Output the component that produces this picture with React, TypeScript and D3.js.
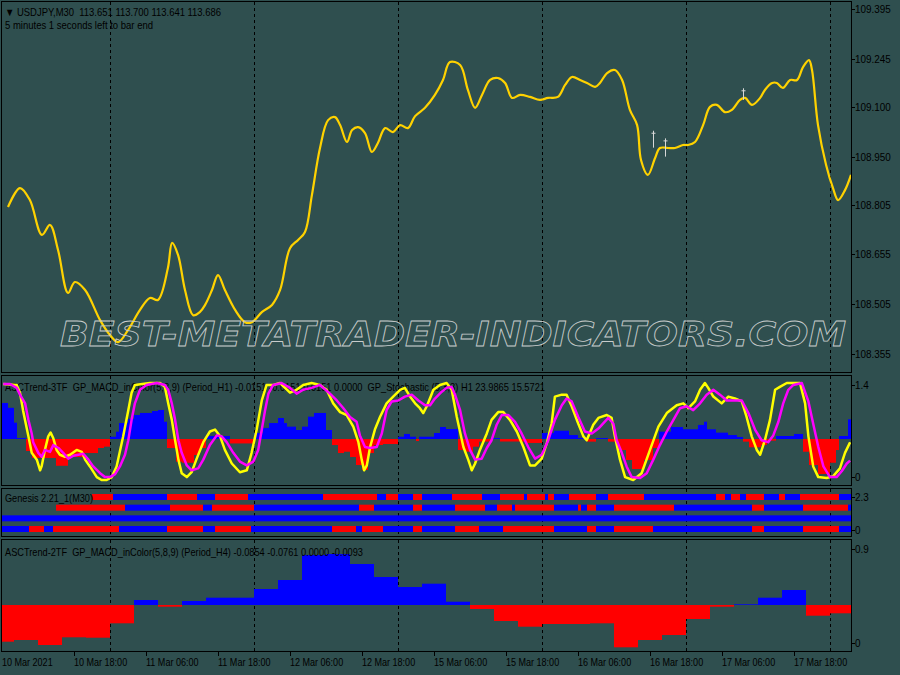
import { useEffect, useRef } from 'react';
import * as d3 from 'd3';

// main chart: USDJPY M30 close line, sampled (bar index, price)
const priceBars = [2, 6, 9.3, 13.3, 16, 18.7, 22, 24.3, 27.7, 32.7, 36, 38.7, 42, 46, 49.3, 52, 55.3, 56.7, 58.7, 61, 63.7, 66, 67.7, 70, 72, 74.3, 77.7, 81, 83.3, 86.7, 90, 92.7, 96, 98.7, 101, 103.3, 106, 108.7, 111, 112.7, 115, 116.7, 118.7, 121, 123.3, 125.3, 127.7, 130.3, 132.7, 135.3, 137.7, 141, 144.3, 147, 149.3, 152.7, 155.3, 157.7, 160, 162.7, 165.3, 167.7, 170, 172.7, 176, 179.3, 182, 185.3, 187.7, 190, 192.7, 195, 197.7, 199.3, 201.7, 204.3, 206.7, 209.3, 211.7, 213, 215.3, 217.7, 219.3, 222, 224.3, 227, 228.7, 231, 233.7, 236, 238.3, 241, 243.3, 246, 247.7, 250, 252.7, 254.3, 256.7, 258.3, 260.3, 262.7, 265, 267, 269, 270, 272, 274.7, 277, 278.7, 281, 283];
const priceVals = [108.798, 108.855, 108.819, 108.714, 108.744, 108.668, 108.539, 108.572, 108.548, 108.457, 108.412, 108.391, 108.427, 108.488, 108.524, 108.518, 108.614, 108.690, 108.653, 108.548, 108.472, 108.482, 108.503, 108.548, 108.593, 108.548, 108.488, 108.451, 108.451, 108.482, 108.503, 108.548, 108.674, 108.699, 108.723, 108.834, 108.976, 109.060, 109.069, 109.045, 108.994, 109.030, 109.039, 109.021, 108.964, 108.991, 109.036, 109.024, 109.045, 109.036, 109.072, 109.097, 109.136, 109.181, 109.235, 109.226, 109.151, 109.097, 109.136, 109.181, 109.187, 109.172, 109.127, 109.136, 109.130, 109.121, 109.127, 109.130, 109.166, 109.190, 109.181, 109.172, 109.160, 109.172, 109.202, 109.211, 109.181, 109.091, 109.045, 108.940, 108.895, 108.946, 108.976, 108.976, 108.976, 108.985, 108.985, 108.994, 109.045, 109.100, 109.106, 109.084, 109.091, 109.121, 109.127, 109.106, 109.127, 109.151, 109.172, 109.172, 109.157, 109.181, 109.181, 109.220, 109.241, 109.211, 109.045, 108.925, 108.855, 108.819, 108.849, 108.895];
const priceTicks = [109.395, 109.245, 109.1, 108.95, 108.805, 108.655, 108.505, 108.355];

// up-arrow objects on the main chart
const arrowBars = [217.1, 221.1, 247.1];
const arrowTops = [109.028, 109.005, 109.156];
const arrowBottoms = [108.977, 108.950, 109.121];

// ASCTrend-3TF: stochastic main / signal (0..100)
const stochMainBars = [0.4, 4.9, 6, 7, 8.8, 9.9, 11.6, 12.7, 13.2, 14.3, 15.4, 16.2, 17.1, 18.2, 19.3, 21, 22.7, 24.9, 26.6, 27.7, 29.3, 31.6, 33.2, 34.9, 36.6, 38.2, 40.4, 42.1, 43.2, 44.3, 49.3, 52.7, 54.3, 55.4, 56.6, 57.7, 58.8, 59.9, 61.6, 63.2, 64.9, 67.1, 69.3, 71, 72.7, 74.3, 76.6, 79.3, 81.6, 83.2, 84.9, 86.6, 88.2, 90.4, 92.7, 96, 98.2, 100.4, 103.2, 106, 108.2, 110.4, 112.7, 114.9, 117.1, 118.8, 119.9, 120.7, 121.6, 122.7, 124.3, 126, 128.2, 130.4, 132.7, 134.3, 136, 137.7, 139.3, 140.4, 141.6, 143.8, 146, 148.2, 149.9, 151.6, 153.8, 155.4, 156.6, 157.7, 159.3, 161.6, 163.2, 165.4, 167.1, 169.3, 171.6, 173.8, 176, 177.7, 179.9, 181.6, 183.2, 184.3, 186.6, 188.2, 189.9, 192.1, 193.8, 194.9, 197.1, 198.8, 201.6, 203.2, 204.3, 206, 207.7, 210.4, 213.2, 216, 218.8, 221.6, 224.9, 227.1, 228.8, 231, 232.7, 234.3, 235.4, 237.1, 239.9, 242.1, 244.3, 246.6, 248.2, 249.9, 251.6, 252.7, 254.3, 256, 257.7, 259.3, 261.6, 266, 267.7, 268.8, 270.4, 272.1, 274.9, 277.1, 279.3, 281, 282.7];
const stochMainVals = [99, 98, 90, 72, 45, 28, 21, 10, 14, 31, 45, 49, 43, 31, 26, 24, 26, 31, 29, 21, 14, 3, 0, 0, 3, 14, 45, 72, 90, 98, 100, 100, 96, 79, 62, 41, 21, 7, 3, 8, 22, 39, 50, 52, 45, 31, 17, 8, 10, 28, 52, 82, 98, 98, 100, 90, 93, 98, 100, 98, 93, 79, 70, 67, 55, 39, 21, 10, 15, 34, 52, 65, 79, 86, 93, 95, 86, 79, 74, 69, 76, 93, 98, 100, 93, 65, 34, 21, 10, 17, 31, 48, 62, 70, 70, 62, 50, 34, 15, 15, 22, 38, 58, 86, 88, 88, 76, 58, 45, 41, 57, 64, 67, 64, 45, 21, 3, 0, 7, 31, 55, 69, 77, 79, 74, 81, 93, 100, 95, 86, 79, 86, 84, 81, 65, 45, 31, 26, 41, 62, 93, 96, 100, 100, 79, 45, 14, 3, 2, 4, 12, 28, 39];
const stochSignalBars = [0.4, 2.7, 4.9, 6, 7.7, 8.8, 9.9, 10.4, 12.1, 13.2, 14.3, 16, 17.1, 18.8, 20.4, 22.1, 23.8, 25.4, 27.1, 28.8, 30.4, 32.7, 34.3, 36, 37.7, 39.3, 41, 42.1, 43.2, 44.3, 46, 48.2, 51.6, 54.3, 55.4, 56.6, 57.7, 58.8, 59.9, 61.6, 63.2, 65.4, 67.1, 69.3, 71.6, 73.2, 74.9, 77.1, 79.3, 81.6, 83.8, 85.4, 86.6, 87.7, 88.8, 90.4, 93.2, 96, 98.2, 100.4, 103.2, 106, 109.3, 111.6, 113.8, 116, 118.2, 119.3, 121, 122.7, 124.9, 126.6, 128.2, 129.9, 132.1, 134.3, 136.6, 138.8, 141, 142.7, 144.3, 146.6, 148.2, 149.9, 151, 152.7, 154.3, 156, 157.7, 159.9, 161.6, 163.2, 164.9, 166.6, 168.8, 171, 173.2, 175.4, 177.7, 179.9, 182.1, 184.3, 186.6, 188.2, 189.9, 192.1, 194.3, 196.6, 198.8, 202.1, 203.8, 204.9, 206.6, 208.2, 209.9, 212.7, 214.9, 217.1, 219.3, 221.6, 223.8, 226, 228.2, 230.4, 232.7, 234.9, 237.1, 239.3, 241.6, 243.8, 246.6, 248.8, 251, 253.2, 255.4, 257.1, 258.8, 260.4, 262.1, 263.8, 266.6, 268.8, 270.4, 272.1, 273.8, 276, 278.2, 279.9, 281.6, 282.7];
const stochSignalVals = [99, 99, 95, 88, 79, 62, 48, 39, 28, 24, 31, 29, 36, 33, 28, 22, 25, 26, 27, 21, 14, 7, 3, 3, 6, 14, 26, 41, 62, 79, 93, 98, 100, 98, 93, 79, 62, 41, 28, 15, 10, 12, 21, 36, 46, 45, 39, 28, 19, 15, 19, 31, 52, 72, 89, 98, 100, 95, 89, 93, 95, 98, 89, 82, 74, 65, 60, 46, 34, 33, 34, 48, 72, 81, 82, 86, 88, 82, 77, 77, 84, 91, 95, 96, 88, 72, 48, 31, 21, 22, 33, 41, 57, 67, 67, 60, 48, 34, 22, 26, 41, 62, 77, 84, 81, 65, 50, 48, 53, 64, 58, 41, 28, 14, 3, 2, 7, 21, 36, 50, 62, 74, 76, 72, 79, 88, 93, 88, 82, 82, 82, 69, 52, 41, 39, 46, 60, 79, 93, 98, 100, 81, 58, 34, 14, 3, 3, 9, 17, 20];

// ASCTrend-3TF: MACD H1 histogram (start bar, value)
const macdH1Starts = [0, 2, 4, 5, 8, 10, 18, 22, 27, 32, 34, 36, 38, 39, 42, 44, 46, 50, 52, 54, 55, 58, 60, 64, 66, 68, 76, 84, 87, 89, 92, 94, 95, 98, 100, 102, 104, 108, 110, 112, 114, 116, 118, 120, 122, 124, 127, 132, 134, 136, 138, 139, 144, 146, 148, 152, 154, 157, 159, 163, 166, 175, 180, 184, 189, 192, 195, 198, 202, 205, 208, 210, 214, 217, 219, 223, 227, 232, 234, 235, 238, 242, 245, 247, 249, 253, 255, 258, 264, 267, 269, 272, 276, 278, 279, 282];
const macdH1Vals = [0.030, 0.026, 0.0136, 0.0008, -0.010, -0.0158, -0.0223, -0.015, -0.0117, -0.0075, -0.0064, 0.0019, 0.0061, 0.0133, 0.0167, 0.020, 0.0217, 0.0233, 0.0242, 0.0144, -0.0075, -0.0189, -0.0198, -0.0133, -0.0075, 0.0025, -0.0037, 0.005, 0.0092, 0.0133, 0.0175, 0.0133, 0.0103, 0.0075, 0.0103, 0.0186, 0.0217, 0.0075, -0.005, -0.0117, -0.0106, -0.015, -0.0217, -0.0258, -0.0117, -0.005, -0.0042, 0.0019, 0.0042, 0.0019, -0.0017, 0.0019, 0.005, 0.010, 0.0083, -0.0092, -0.0106, -0.0064, -0.0022, 0.0008, -0.0021, -0.0033, 0.005, 0.0069, 0.0033, 0.0008, -0.0022, 0.0008, -0.0022, -0.0092, -0.0175, -0.025, -0.0175, -0.0075, 0.0061, 0.010, 0.0081, 0.0117, 0.0144, 0.0081, 0.0053, 0.0033, 0.0017, -0.0022, -0.0069, -0.005, -0.0014, 0.0025, 0.0042, -0.0106, -0.0217, -0.0292, -0.0198, -0.0092, 0.0025, 0.0164];

// Genesis rows: start bar of each run, first run's colour, runs alternate
const genesisRow1Starts = [30, 37, 55, 65, 71, 82, 107, 125, 128, 132, 137, 140, 150, 160, 166, 174, 175, 181, 182, 184, 189, 198, 202, 214, 238, 241, 243, 246, 248, 254, 259, 261, 266, 279];
const genesisRow2Starts = [18, 41, 56, 67, 70, 84, 119, 124, 137, 140, 151, 161, 165, 170, 171, 184, 192, 193, 195, 198, 204, 224, 250, 254, 267, 282];
const genesisRow3Starts = [0];
const genesisRow4Starts = [0, 9, 14, 17, 39, 55, 67, 71, 83, 110, 118, 120, 127, 137, 140, 151, 159, 167, 184, 195, 198, 204, 217, 250, 254, 267, 279];
const genesisFirstUp = [false, false, true, true];

// ASCTrend-2TF: MACD H4 histogram
const macdH4Starts = [0, 4, 12, 20, 28, 36, 44, 52, 60, 68, 76, 84, 92, 100, 108, 116, 124, 132, 140, 148, 156, 164, 172, 180, 188, 196, 204, 212, 220, 228, 236, 244, 252, 260, 268, 276];
const macdH4Vals = [-0.0734, -0.070, -0.080, -0.0646, -0.0654, -0.0366, 0.010, -0.0034, 0.008, 0.0146, 0.0146, 0.032, 0.050, 0.100, 0.102, 0.082, 0.056, 0.036, 0.0426, 0.0066, -0.008, -0.032, -0.0434, -0.038, -0.038, -0.0366, -0.0846, -0.070, -0.060, -0.028, -0.0034, 0.0014, 0.0146, 0.030, -0.0214, -0.0166];

const timeBars = [0, 24, 48, 72, 96, 120, 144, 168, 192, 216, 240, 264];
const timeLabels = ['10 Mar 2021', '10 Mar 18:00', '11 Mar 06:00', '11 Mar 18:00', '12 Mar 06:00', '12 Mar 18:00', '15 Mar 06:00', '15 Mar 18:00', '16 Mar 06:00', '16 Mar 18:00', '17 Mar 06:00', '17 Mar 18:00'];
const gridBars = [36, 84, 132, 180, 228, 276];

const BG = '#2F4F4F';
const FONT = 'Liberation Sans, Arial, sans-serif';
const UP = '#0000FF';
const DOWN = '#FF0000';

export default function App() {
  const ref = useRef<SVGSVGElement>(null);

  useEffect(() => {
    document.body.style.margin = '0';
    const svg = d3.select(ref.current);
    svg.selectAll('*').remove();

    const L = 2, R = 851, lastBar = 283;
    const panels = [
      { top: 2, bottom: 373 },
      { top: 376, bottom: 486 },
      { top: 489, bottom: 537 },
      { top: 540, bottom: 652 },
    ];
    const x = d3.scaleLinear().domain([0, lastBar]).range([L, R]);
    const priceY = d3.scaleLinear().domain([108.355, 109.395]).range([354, 9]);
    const stochY = d3.scaleLinear().domain([0, 100]).range([480, 383]);
    const h1Y = d3.scaleLinear().domain([-0.03, 0.03]).range([475, 403]);
    const h4Y = d3.scaleLinear().domain([-0.1, 0.1]).range([655, 555]);
    const rowY = d3.scalePoint<number>().domain([0, 1, 2, 3]).range([497, 529]);
    const p1Axis = d3.scaleLinear().domain([0, 1.4]).range([477, 385]);
    const p2Axis = d3.scaleLinear().domain([0, 2.3]).range([530, 497]);
    const p3Axis = d3.scaleLinear().domain([0, 0.9]).range([643, 549]);

    svg.append('rect').attr('width', 900).attr('height', 675).attr('fill', BG);

    const squeeze = (sel: d3.Selection<SVGTextElement, any, any, any>, k: number) => {
      sel.each(function () {
        const w = this.getComputedTextLength();
        d3.select(this).attr('textLength', w * k).attr('lengthAdjust', 'spacingAndGlyphs');
      });
    };
    const label = (tx: number, ty: number, s: string, len: number) =>
      svg.append('text').attr('x', tx).attr('y', ty).attr('font-family', FONT).attr('font-size', 11)
        .attr('fill', '#000').style('white-space', 'pre').attr('textLength', len)
        .attr('lengthAdjust', 'spacingAndGlyphs').text(s);

    // grid
    panels.forEach(p => {
      svg.append('g').selectAll('line').data(gridBars).enter().append('line')
        .attr('x1', d => Math.round(x(d)) + 0.5).attr('x2', d => Math.round(x(d)) + 0.5)
        .attr('y1', p.top).attr('y2', p.bottom)
        .attr('stroke', '#000').attr('stroke-dasharray', '3,3');
    });

    // ---- main chart
    label(5, 16, '\u25BC USDJPY,M30  113.651 113.700 113.641 113.686', 216);
    label(5, 29, '5 minutes 1 seconds left to bar end', 148);

    const priceData = priceBars.map((b, i) => ({ b, v: priceVals[i] }));
    const priceLine = d3.line<{ b: number; v: number }>().x(d => x(d.b)).y(d => priceY(d.v)).curve(d3.curveCatmullRom.alpha(0.5));
    svg.append('path').datum(priceData).attr('d', priceLine)
      .attr('fill', 'none').attr('stroke', '#FFD200').attr('stroke-width', 2.2).attr('stroke-linejoin', 'round');

    arrowBars.forEach((b, i) => {
      const ax = Math.round(x(b)) + 0.5;
      const top = priceY(arrowTops[i]);
      svg.append('line').attr('x1', ax).attr('x2', ax).attr('y1', top).attr('y2', priceY(arrowBottoms[i]))
        .attr('stroke', '#D8D8D8').attr('stroke-width', 1);
      svg.append('line').attr('x1', ax - 2).attr('x2', ax + 2).attr('y1', top + 2.5).attr('y2', top + 2.5)
        .attr('stroke', '#D8D8D8').attr('stroke-width', 1);
    });

    svg.append('text').attr('x', 60).attr('y', 346)
      .attr('font-family', 'DejaVu Sans, sans-serif').attr('font-size', 33).attr('font-weight', 'bold')
      .attr('font-style', 'italic').attr('fill', 'none').attr('stroke', '#C8CCCC').attr('stroke-width', 0.8)
      .attr('textLength', 786).attr('lengthAdjust', 'spacingAndGlyphs')
      .text('BEST-METATRADER-INDICATORS.COM');

    // ---- ASCTrend-3TF
    macdH1Starts.forEach((s, i) => {
      const e = i + 1 < macdH1Starts.length ? macdH1Starts[i + 1] : lastBar;
      const v = macdH1Vals[i];
      svg.append('rect').attr('x', x(s)).attr('width', x(e) - x(s))
        .attr('y', Math.min(h1Y(0), h1Y(v))).attr('height', Math.abs(h1Y(v) - h1Y(0)))
        .attr('fill', v >= 0 ? UP : DOWN);
    });
    label(5, 390.5, 'ASCTrend-3TF  GP_MACD_inColor(5,8,9) (Period_H1) -0.0151 -0.0151 0.0151 0.0000  GP_Stochastic (5,3,3) H1 23.9865 15.5721', 540);

    const stochLine = d3.line<{ b: number; v: number }>().x(d => x(d.b)).y(d => stochY(d.v));
    svg.append('path').datum(stochMainBars.map((b, i) => ({ b, v: stochMainVals[i] }))).attr('d', stochLine)
      .attr('fill', 'none').attr('stroke', '#FFFF00').attr('stroke-width', 2.5).attr('stroke-linejoin', 'round');
    svg.append('path').datum(stochSignalBars.map((b, i) => ({ b, v: stochSignalVals[i] }))).attr('d', stochLine)
      .attr('fill', 'none').attr('stroke', '#FF00FF').attr('stroke-width', 2.5).attr('stroke-linejoin', 'round');

    // ---- Genesis
    [genesisRow1Starts, genesisRow2Starts, genesisRow3Starts, genesisRow4Starts].forEach((starts, r) => {
      starts.forEach((s, i) => {
        const e = i + 1 < starts.length ? starts[i + 1] : lastBar;
        const up = genesisFirstUp[r] ? i % 2 === 0 : i % 2 === 1;
        svg.append('rect').attr('x', x(s)).attr('width', x(e) - x(s))
          .attr('y', (rowY(r) ?? 0) - 3).attr('height', 6).attr('fill', up ? UP : DOWN);
      });
    });
    label(5, 501.5, 'Genesis 2.21_1(M30)', 88);

    // ---- ASCTrend-2TF
    macdH4Starts.forEach((s, i) => {
      const e = i + 1 < macdH4Starts.length ? macdH4Starts[i + 1] : lastBar;
      const v = macdH4Vals[i];
      svg.append('rect').attr('x', x(s)).attr('width', x(e) - x(s))
        .attr('y', Math.min(h4Y(0), h4Y(v))).attr('height', Math.abs(h4Y(v) - h4Y(0)))
        .attr('fill', v >= 0 ? UP : DOWN);
    });
    label(5, 555.5, 'ASCTrend-2TF  GP_MACD_inColor(5,8,9) (Period_H4) -0.0854 -0.0761 0.0000 -0.0093', 358);

    // ---- frames
    panels.forEach(p => {
      svg.append('rect').attr('x', 1.5).attr('y', p.top - 0.5).attr('width', R - 1).attr('height', p.bottom - p.top)
        .attr('fill', 'none').attr('stroke', '#000').attr('stroke-width', 1);
    });

    // ---- right-side scales
    const rightAxis = (vals: number[], sc: (v: number) => number, fmt: (v: number) => string) => {
      const g = svg.append('g');
      vals.forEach(v => {
        const yy = Math.round(sc(v)) + 0.5;
        g.append('line').attr('x1', R + 0.5).attr('x2', R + 4).attr('y1', yy).attr('y2', yy).attr('stroke', '#000');
      });
      const t = g.selectAll<SVGTextElement, number>('text').data(vals).enter().append('text')
        .attr('x', 855).attr('y', v => sc(v) + 4)
        .attr('font-family', FONT).attr('font-size', 11).attr('fill', '#000').text(fmt);
      squeeze(t, 0.9);
    };
    rightAxis(priceTicks, priceY, v => v.toFixed(3));
    rightAxis([1.4, 0], p1Axis, v => (v === 0 ? '0' : String(v)));
    rightAxis([2.3, 0], p2Axis, v => (v === 0 ? '0' : String(v)));
    rightAxis([0.9, 0], p3Axis, v => (v === 0 ? '0' : String(v)));

    // ---- time axis
    const ta = svg.append('g');
    ta.selectAll('line').data(timeBars.slice(1)).enter().append('line')
      .attr('x1', d => Math.round(x(d)) + 0.5).attr('x2', d => Math.round(x(d)) + 0.5)
      .attr('y1', 652).attr('y2', 656).attr('stroke', '#000');
    const tl = ta.selectAll<SVGTextElement, number>('text').data(timeBars).enter().append('text')
      .attr('x', d => Math.max(x(d), 2)).attr('y', 666)
      .attr('font-family', FONT).attr('font-size', 11).attr('fill', '#000')
      .text((_, i) => timeLabels[i]);
    squeeze(tl, 0.82);
  }, []);

  return <svg ref={ref} width={900} height={675} style={{ display: 'block' }} />;
}
